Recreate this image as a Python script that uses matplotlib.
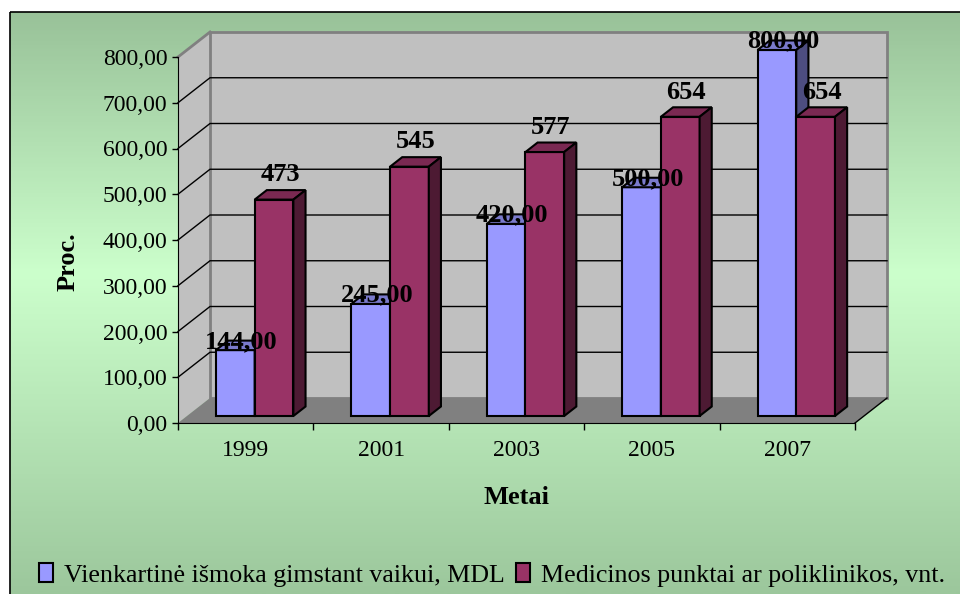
import matplotlib.pyplot as plt
import numpy as np
from matplotlib.patches import Polygon, Rectangle, Patch
from matplotlib.colors import LinearSegmentedColormap

plt.rcParams['font.family'] = ['Liberation Serif', 'DejaVu Serif']

years = ['1999', '2001', '2003', '2005', '2007']
ismoka = [144, 245, 420, 500, 800]        # Vienkartine ismoka, MDL
punktai = [473, 545, 577, 654, 654]       # Medicinos punktai, vnt.
yticks = [0, 100, 200, 300, 400, 500, 600, 700, 800]

blue = '#9999FF'
red = '#993366'


def shade(c, k):
    c = np.array(plt.matplotlib.colors.to_rgb(c))
    return tuple(c * k)


fig = plt.figure(figsize=(9.6, 5.94), dpi=100)

# background with gradient, like the excel chart area
bg = fig.add_axes([0, 0, 1, 1], zorder=-10)
bg.set_xlim(0, 960)
bg.set_ylim(594, 0)
bg.axis('off')
cmap = LinearSegmentedColormap.from_list('g', [(0, '#99C299'), (0.45, '#CCFFCC'),
                                              (1, '#9CC79C')])
grad = np.linspace(0, 1, 300).reshape(-1, 1)
bg.imshow(grad, cmap=cmap, aspect='auto', extent=(10, 960, 594, 12))
bg.add_patch(Rectangle((10, 12), 1000, 700, fill=False, edgecolor='black', lw=1.2))

ax = fig.add_axes([178 / 960, 171 / 594, 677 / 960, 366 / 594])
ax.set_facecolor('none')
n = len(years)
x = np.arange(n)
ax.set_xlim(-0.5, n - 0.5)
ax.set_ylim(0, 800)

# depth of the 3d box in data units
DX = 32 / 135.4
DY = 25 / 45.75 * 100
d0, d1 = 0.28, 0.66
x0, x1 = -0.5, n - 0.5

# walls and floor
side = Polygon([(x0, 0), (x0, 800), (x0 + DX, 800 + DY), (x0 + DX, DY)],
               closed=True, facecolor='#C0C0C0', edgecolor='none', clip_on=False, zorder=0)
back = Polygon([(x0 + DX, DY), (x0 + DX, 800 + DY), (x1 + DX, 800 + DY), (x1 + DX, DY)],
               closed=True, facecolor='#C0C0C0', edgecolor='#808080', lw=2, clip_on=False, zorder=0)
floor = Polygon([(x0, 0), (x1, 0), (x1 + DX, DY), (x0 + DX, DY)],
                closed=True, facecolor='#808080', edgecolor='none', clip_on=False, zorder=0.5)
ax.add_patch(side)
ax.add_patch(back)
ax.add_patch(floor)
ax.plot([x0, x0 + DX], [800, 800 + DY], color='#808080', lw=2, clip_on=False, zorder=0.6)
ax.plot([x1, x1 + DX], [0, DY], color='black', lw=1, clip_on=False, zorder=0.6)
for v in yticks[1:-1]:
    ax.plot([x0, x0 + DX, x1 + DX], [v, v + DY, v + DY], color='black', lw=1,
            clip_on=False, zorder=0.6)

# bars with top and side faces
w = 0.286
sx, sy = d0 * DX, d0 * DY
ddx, ddy = (d1 - d0) * DX, (d1 - d0) * DY
for i in range(n):
    for vals, col, off, fmt, lab in [(ismoka, blue, -w / 2, '{:.2f}', 4),
                                      (punktai, red, w / 2, '{:.0f}', 20)]:
        xc = x[i] + off + sx
        v = vals[i]
        ax.bar(xc, v, w, bottom=sy, color=col, edgecolor='black', lw=1.5,
               zorder=2 + i, clip_on=False)
        xl, xr, top = xc - w / 2, xc + w / 2, sy + v
        ax.add_patch(Polygon([(xl, top), (xr, top), (xr + ddx, top + ddy), (xl + ddx, top + ddy)],
                             closed=True, facecolor=shade(col, 0.8), edgecolor='black',
                             lw=1.5, zorder=2 + i, clip_on=False))
        ax.add_patch(Polygon([(xr, sy), (xr + ddx, sy + ddy), (xr + ddx, top + ddy), (xr, top)],
                             closed=True, facecolor=shade(col, 0.5), edgecolor='black',
                             lw=1.5, zorder=2 + i, clip_on=False))
        ax.annotate(fmt.format(v).replace('.', ','), (xc + ddx / 2, top + ddy / 2),
                    xytext=(0, lab * 0.72), textcoords='offset points', ha='center',
                    va='center', fontsize=19, fontweight='bold', zorder=20,
                    annotation_clip=False)

for s in ['top', 'right']:
    ax.spines[s].set_visible(False)
ax.spines['left'].set_zorder(1)
ax.spines['bottom'].set_zorder(1)

ax.set_yticks(yticks)
ax.set_yticklabels(['{:.2f}'.format(v).replace('.', ',') for v in yticks], fontsize=17)
ax.tick_params(axis='y', direction='out', length=4.5, width=1, pad=3)
ax.set_xticks(x)
ax.set_xticklabels(years, fontsize=17)
ax.set_xticks(np.arange(n + 1) - 0.5, minor=True)
ax.tick_params(axis='x', which='major', length=0, pad=12)
ax.tick_params(axis='x', which='minor', direction='out', length=5, width=1)

ax.set_xlabel('Metai', fontsize=19, fontweight='bold', labelpad=18)
ax.set_ylabel('Proc.', fontsize=19, fontweight='bold')
ax.yaxis.set_label_coords(-0.145, 0.44)

handles = [Patch(facecolor=blue, edgecolor='black', lw=1.5),
           Patch(facecolor=red, edgecolor='black', lw=1.5)]
fig.legend(handles, ['Vienkartinė išmoka gimstant vaikui, MDL',
                     'Medicinos punktai ar poliklinikos, vnt.'],
           loc='center', bbox_to_anchor=(492 / 960, 1 - 575 / 594), ncol=2,
           frameon=False, fontsize=18.7, handlelength=0.55, handleheight=0.75,
           handletextpad=0.4, columnspacing=0.45, borderpad=0)

fig.savefig('out.png', dpi=100)
